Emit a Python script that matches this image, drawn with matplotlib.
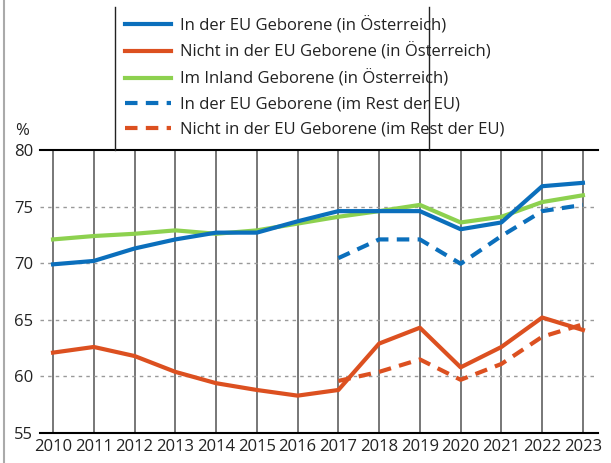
import matplotlib.pyplot as plt
from matplotlib.lines import Line2D

plt.rcParams['font.family'] = ['Open Sans', 'DejaVu Sans']

years = list(range(2010, 2024))
years_rest = list(range(2017, 2024))

# Erwerbstaetigenquoten in %
eu_at = [69.9, 70.2, 71.3, 72.1, 72.7, 72.7, 73.7, 74.6, 74.6, 74.6, 73.0, 73.6, 76.8, 77.1]
non_eu_at = [62.1, 62.6, 61.8, 60.4, 59.4, 58.8, 58.3, 58.8, 62.9, 64.3, 60.8, 62.6, 65.2, 64.1]
inland_at = [72.1, 72.4, 72.6, 72.9, 72.6, 72.9, 73.5, 74.1, 74.6, 75.15, 73.6, 74.1, 75.4, 76.0]
eu_rest = [70.45, 72.1, 72.1, 69.95, 72.4, 74.6, 75.15]
non_eu_rest = [59.6, 60.4, 61.5, 59.7, 61.1, 63.5, 64.6]

labels = ["In der EU Geborene (in Österreich)",
          "Nicht in der EU Geborene (in Österreich)",
          "Im Inland Geborene (in Österreich)",
          "In der EU Geborene (im Rest der EU)",
          "Nicht in der EU Geborene (im Rest der EU)"]

blue = "#0b6fbc"
orange = "#dc5020"
green = "#8dd14f"

fig = plt.figure(figsize=(6.11, 4.63), dpi=100)
ax = fig.add_axes([40 / 611, 1 - 433 / 463, 558 / 611, 283 / 463])

ax.plot(years, eu_at, color=blue, lw=3, label=labels[0], zorder=5)
ax.plot(years, non_eu_at, color=orange, lw=3, label=labels[1], zorder=5)
ax.plot(years, inland_at, color=green, lw=3, label=labels[2], zorder=4)
ax.plot(years_rest, eu_rest, color=blue, lw=3, ls=(0, (3, 2)), label=labels[3], zorder=5)
ax.plot(years_rest, non_eu_rest, color=orange, lw=3, ls=(0, (3, 2)), label=labels[4], zorder=5)

ax.set_xlim(2009.68, 2023.37)
ax.set_ylim(55, 80)
ax.set_xticks(years)
ax.set_yticks([55, 60, 65, 70, 75, 80])
ax.tick_params(length=0, labelsize=12, colors="#222222", pad=4)
ax.tick_params(axis='y', pad=5)

for y in years:
    ax.axvline(y, color="#606060", lw=1.2, zorder=1)
for v in [60, 65, 70, 75]:
    ax.axhline(v, color="#999999", lw=1, ls=(0, (2.5, 3)), zorder=1)

for s in ['left', 'right']:
    ax.spines[s].set_visible(False)
ax.spines['top'].set_linewidth(1.5)
ax.spines['bottom'].set_linewidth(1.5)

fig.text(15 / 611, 1 - 131 / 463, "%", fontsize=12, color="#222222", va='center')

# Legende
leg = fig.legend(loc='upper left', bbox_to_anchor=(118 / 611, 1 - 10 / 463), frameon=False,
                 fontsize=12, handlelength=2.8, handletextpad=0.5, labelspacing=0.55,
                 borderaxespad=0)
for t in leg.get_texts():
    t.set_color("#222222")
fig.add_artist(Line2D([115 / 611, 115 / 611], [1 - 7 / 463, 1 - 150 / 463], color="#222222", lw=1))
fig.add_artist(Line2D([429 / 611, 429 / 611], [1 - 7 / 463, 1 - 150 / 463], color="#222222", lw=1))
fig.add_artist(Line2D([4 / 611, 4 / 611], [0, 1], color="#aaaaaa", lw=1.5))

fig.savefig("out.png", dpi=100)
